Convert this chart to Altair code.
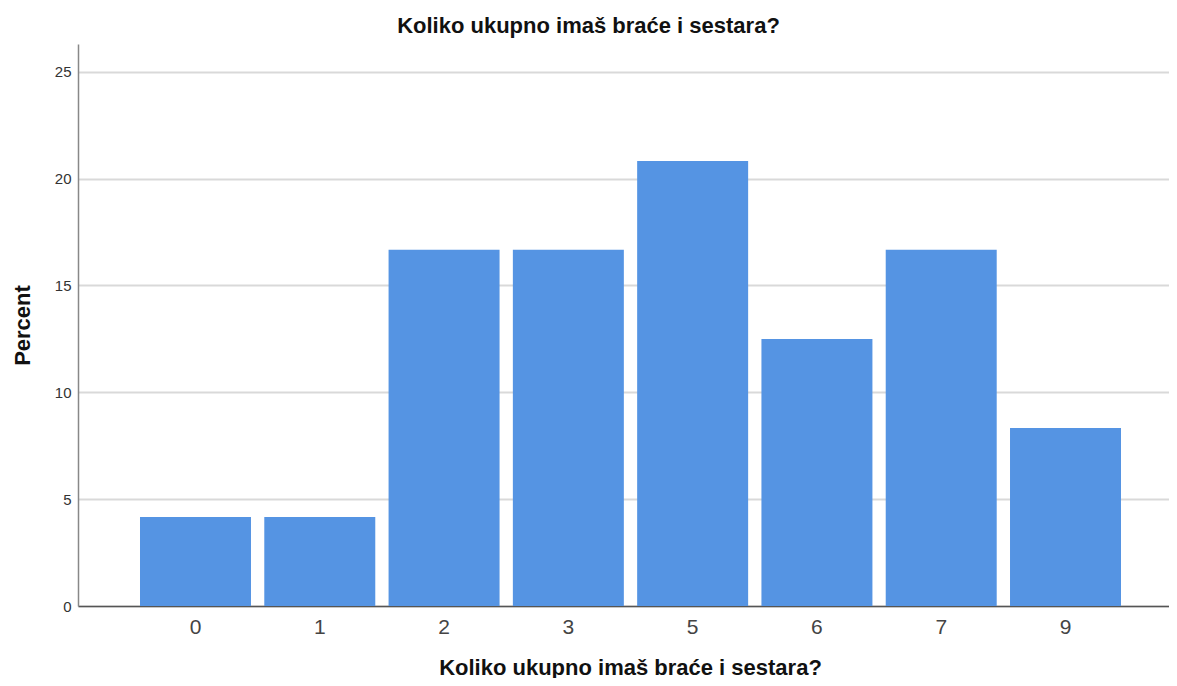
import altair as alt
import pandas as pd

categories = ["0", "1", "2", "3", "5", "6", "7", "9"]
percents = [4.17, 4.17, 16.67, 16.67, 20.83, 12.50, 16.67, 8.33]
y_ticks = [0, 5, 10, 15, 20, 25]
title_text = "Koliko ukupno imaš braće i sestara?"

df = pd.DataFrame({"cat": categories, "pct": percents})

FONT = "Liberation Sans"

chart = alt.Chart(df).mark_bar(color="#5594e3", xOffset=7).encode(
    x=alt.X("cat:N", sort=categories,
            scale=alt.Scale(paddingInner=0.107, paddingOuter=0.4425),
            axis=alt.Axis(title=title_text, labelAngle=0, labelFontSize=21,
                          labelFont=FONT, labelColor="#444444", labelPadding=10,
                          labelOffset=7,
                          ticks=False, domainColor="#555555", domainWidth=1.5,
                          titleFont=FONT, titleFontSize=22, titleFontWeight="bold",
                          titleColor="#111111", titlePadding=20, grid=False,
                          titleX=552)),
    y=alt.Y("pct:Q", scale=alt.Scale(domain=[0, 26.3], nice=False),
            axis=alt.Axis(title="Percent", values=y_ticks, labelFontSize=15,
                          labelFont=FONT, labelColor="#333333", labelPadding=7,
                          ticks=False, domainColor="#888888", domainWidth=1.5,
                          gridColor="#d9d9d9", gridWidth=2,
                          titleFont=FONT, titleFontSize=22, titleFontWeight="bold",
                          titleColor="#111111", titlePadding=20)),
).properties(
    width=1091, height=562,
    title=alt.TitleParams(title_text, font=FONT, fontSize=22, fontWeight="bold",
                          color="#111111", anchor="middle", dx=-35, offset=6),
    autosize=alt.AutoSizeParams(type="none"),
    padding={"left": 70, "top": 36, "right": 0, "bottom": 72},
).configure_view(stroke=None)

chart.save("out.html", embed_options={"renderer": "svg", "actions": False})
